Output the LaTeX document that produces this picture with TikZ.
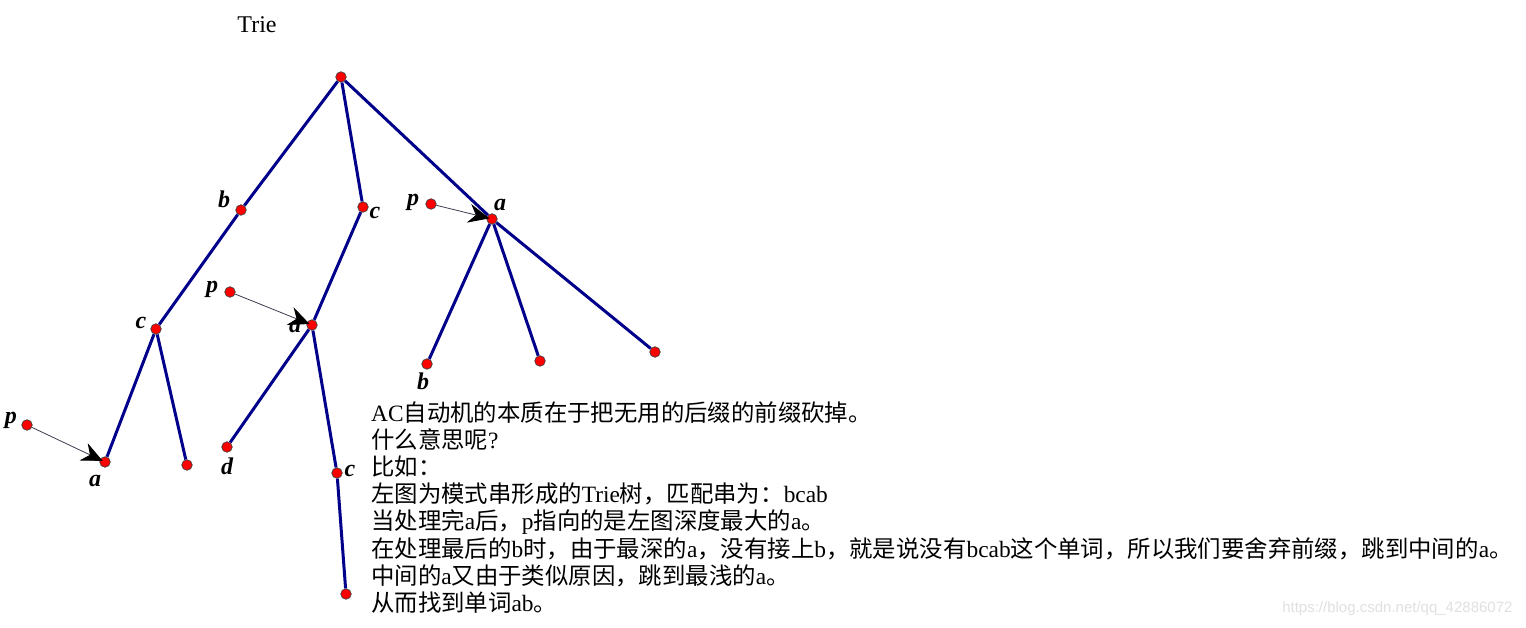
\documentclass[tikz,border=0pt]{standalone}
\usepackage{fontspec}
\setmainfont{Liberation Serif}
\newfontfamily\cjk{Noto Sans CJK SC}
\newfontfamily\wmfont{Liberation Sans}
\usepackage{tikz}
\usetikzlibrary{arrows.meta}
\definecolor{edgeblue}{RGB}{0,0,139}
\definecolor{ptrgray}{RGB}{60,60,80}
\newcommand{\zh}[1]{{\cjk #1}}
\tikzstyle{dot} = [circle, draw=black!75, fill=red, line width=0.7pt,
    inner sep=0pt, minimum size=10.5pt]
\tikzstyle{lbl} = [font=\fontsize{24}{24}\selectfont\bfseries\itshape,
    inner sep=0pt]
\tikzstyle{edge} = [edgeblue, line width=3pt]
\tikzstyle{ptr} = [-{Stealth[length=21pt,width=19pt,inset=7pt,color=black]},
    ptrgray, line width=0.8pt, shorten >=-3pt]
\tikzstyle{note} = [font=\fontsize{23.4}{27.2}\selectfont, text width=1160pt,
    align=left, inner sep=0pt]

\begin{document}
\begin{tikzpicture}[x=1pt, y=-1pt]
    \useasboundingbox (0,0) rectangle (1526,628);
    % Place nodes
    \node [font=\fontsize{24}{24}\selectfont] (title) at (257,25) {Trie};
    \node [dot] (root) at (341,77) {};
    \node [dot] (nb) at (241,210) {};
    \node [dot] (nc) at (363,207) {};
    \node [dot] (na) at (492,219) {};
    \node [dot] (nbc) at (156,329) {};
    \node [dot] (nbca) at (105,462) {};
    \node [dot] (nbcx) at (187,465) {};
    \node [dot] (nca) at (312,325) {};
    \node [dot] (ncad) at (227,447) {};
    \node [dot] (ncac) at (337,473) {};
    \node [dot] (ncacx) at (346,594) {};
    \node [dot] (nab) at (427,364) {};
    \node [dot] (nax) at (540,361) {};
    \node [dot] (nay) at (655,352) {};
    \node [dot] (p1) at (27,425) {};
    \node [dot] (p2) at (230,292) {};
    \node [dot] (p3) at (431,204) {};
    % Labels
    \node [lbl] (lb) at (224,199) {b};
    \node [lbl] (lc) at (375,213) {c};
    \node [lbl] (la) at (500,205) {a};
    \node [lbl] (lbc) at (141,323) {c};
    \node [lbl] (lbca) at (95,481) {a};
    \node [lbl] (lca) at (295,327) {a};
    \node [lbl] (lcad) at (227,466) {d};
    \node [lbl] (lcac) at (350,471) {c};
    \node [lbl] (lab) at (423,381) {b};
    \node [lbl] (lp1) at (11,420) {p};
    \node [lbl] (lp2) at (212,289) {p};
    \node [lbl] (lp3) at (413,202) {p};
    % Text
    \node [note, anchor=base west] (text) at (371,421) {%
        AC\zh{自动机的本质在于把无用的后缀的前缀砍掉。}\\
        \zh{什么意思呢}?\\
        \zh{比如：}\\
        \zh{左图为模式串形成的}Trie\zh{树，匹配串为：}bcab\\
        \zh{当处理完}a\zh{后，}p\zh{指向的是左图深度最大的}a\zh{。}\\
        \zh{在处理最后的}b\zh{时，由于最深的}a\zh{，没有接上}b\zh{，就是说没有}bcab\zh{这个单词，所以我们要舍弃前缀，跳到中间的}a\zh{。}\\
        \zh{中间的}a\zh{又由于类似原因，跳到最浅的}a\zh{。}\\
        \zh{从而找到单词}ab\zh{。}};
    \node [font=\wmfont\fontsize{15}{15}\selectfont, text=black!12,
        anchor=east] (mark) at (1516,609) {https://blog.csdn.net/qq\_42886072};
    % Draw edges
    \draw [edge] (root) -- (nb);
    \draw [edge] (root) -- (nc);
    \draw [edge] (root) -- (na);
    \draw [edge] (nb) -- (nbc);
    \draw [edge] (nbc) -- (nbca);
    \draw [edge] (nbc) -- (nbcx);
    \draw [edge] (nc) -- (nca);
    \draw [edge] (nca) -- (ncad);
    \draw [edge] (nca) -- (ncac);
    \draw [edge] (ncac) -- (ncacx);
    \draw [edge] (na) -- (nab);
    \draw [edge] (na) -- (nax);
    \draw [edge] (na) -- (nay);
    \draw [ptr] (p1) -- (nbca);
    \draw [ptr] (p2) -- (nca);
    \draw [ptr] (p3) -- (na);
\end{tikzpicture}
\end{document}
